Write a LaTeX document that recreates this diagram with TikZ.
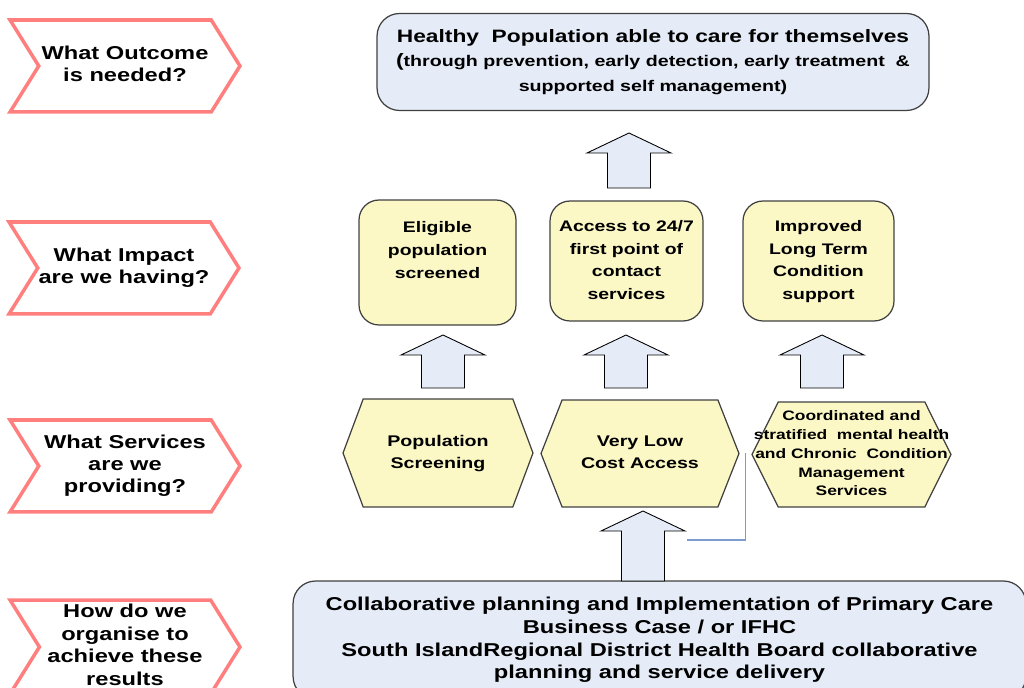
\documentclass[tikz,border=0pt]{standalone}
\usepackage{fontspec}
\setmainfont{Liberation Sans}[FakeStretch=1.27]
\usetikzlibrary{shapes.symbols}
\definecolor{salmon}{HTML}{FF7F7F}
\definecolor{paleyellow}{HTML}{FCF8C6}
\definecolor{paleblue}{HTML}{E6ECF7}
\definecolor{edgegray}{HTML}{404040}
\definecolor{linkblue}{HTML}{7E9CCB}
\newcommand{\stacktext}[1]{\makebox[0pt]{\begin{tabular}{@{}c@{}}#1\end{tabular}}}
% block arrow pointing up: centre x, tip y, base y
\newcommand{\blockarrow}[3]{\filldraw[block arrow] (#1-21.5,#3) -- (#1-21.5,#2+20) -- (#1-42,#2+20) -- (#1,#2) -- (#1+42,#2+20) -- (#1+21.5,#2+20) -- (#1+21.5,#3) -- cycle;}
\begin{document}
\begin{tikzpicture}[x=0.02cm,y=-0.02cm,font=\bfseries]
      \tikzstyle{chevron}=[signal,signal from=west,signal to=east,signal pointer angle=116,draw=salmon,line width=2pt,fill=white,inner sep=0,minimum width=4.6cm,minimum height=1.84cm,font=\fontsize{10.6}{12.8}\selectfont\bfseries]
      \tikzstyle{impact box}=[rectangle,rounded corners=0.4cm,draw=edgegray,line width=0.7pt,fill=paleyellow,inner sep=0,font=\fontsize{8.7}{13}\selectfont\bfseries]
      \tikzstyle{service hex}=[signal,signal to=east and west,draw=edgegray,line width=0.7pt,fill=paleyellow,inner sep=0,font=\fontsize{8.8}{12.5}\selectfont\bfseries]
      \tikzstyle{blue box}=[rectangle,rounded corners=0.45cm,draw=edgegray,line width=0.7pt,fill=paleblue,inner sep=0]
      \tikzstyle{block arrow}=[draw=black,line width=0.5pt,fill=paleblue,line join=miter]
      \tikzstyle{link}=[draw=linkblue,line width=0.6pt]

      \useasboundingbox (0,0) rectangle (1024,688);
      \clip (0,0) rectangle (1024,688);

      % questions on the left
      \node[chevron] (qoutcome) at (125,66) {\stacktext{What Outcome\\is needed?}};
      \node[chevron] (qimpact) at (124,268) {\stacktext{What Impact\\are we having?}};
      \node[chevron] (qservices) at (125,466) {\stacktext{What Services\\are we\\providing?}};
      \node[chevron,minimum height=1.88cm] (qorganise) at (125,647) {\stacktext{How do we\\organise to\\achieve these\\results}};

      % outcome
      \node[blue box,minimum width=11.04cm,minimum height=1.94cm,align=center,font=\fontsize{8.8}{13.8}\selectfont\bfseries] (outcome) at (653,62)
          {{\fontsize{10.2}{13.8}\selectfont Healthy\ \ Population able to care for themselves}\\
           {\fontsize{10.2}{13.8}\selectfont(}through prevention, early detection, early treatment\ \ \&\\
           supported self management)};

      % impact
      \node[impact box,minimum width=3.14cm,minimum height=2.5cm] (impscreen) at (437.5,262.5) {\stacktext{Eligible\\population\\screened\\\mbox{}}};
      \node[impact box,minimum width=3.06cm,minimum height=2.4cm] (impaccess) at (626.5,261) {\stacktext{Access to 24/7\\first point of\\contact\\services}};
      \node[impact box,minimum width=3.02cm,minimum height=2.4cm] (impltc) at (818.5,261) {\stacktext{Improved\\Long Term\\Condition\\support}};

      % services
      \node[service hex,minimum width=3.8cm,minimum height=2.16cm,signal pointer angle=139] (svcscreen) at (438,453) {\stacktext{Population\\Screening}};
      \node[service hex,minimum width=3.96cm,minimum height=2.14cm,signal pointer angle=137] (svclow) at (640,453.5) {\stacktext{Very Low\\Cost Access}};
      \node[service hex,minimum width=3.98cm,minimum height=2.1cm,signal pointer angle=127,font=\fontsize{7.8}{10.7}\selectfont\bfseries] (svcltc) at (851.5,454.5)
          {\stacktext{Coordinated and\\stratified\ \ mental health\\and Chronic\ \ Condition\\Management\\Services}};

      % organisation
      \node[blue box,minimum width=14.66cm,minimum height=2.36cm,align=center,font=\fontsize{10.6}{12.9}\selectfont\bfseries] (plan) at (659.5,640)
          {Collaborative planning and Implementation of Primary Care\\
           Business Case / or IFHC\\
           South IslandRegional District Health Board collaborative\\
           planning and service delivery};

      % block arrows
      \blockarrow{629}{133}{188}
      \blockarrow{443}{335}{388}
      \blockarrow{626}{335}{388}
      \blockarrow{822}{335}{388}
      \blockarrow{643}{511}{581}

      % connector
      \coordinate (linkstart) at (687,540);
      \draw[link] (linkstart) -| ([xshift=0.12cm]svclow.east);
\end{tikzpicture}
\end{document}
